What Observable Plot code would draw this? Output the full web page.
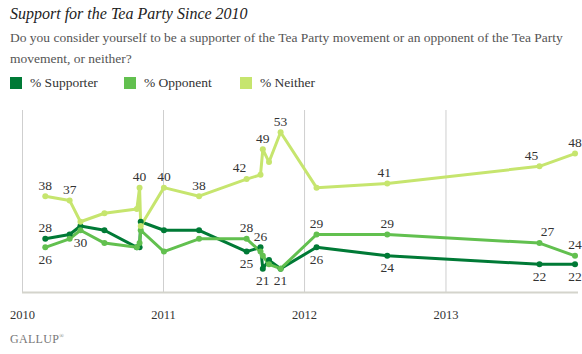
<!DOCTYPE html>
<html>
<head>
<meta charset="utf-8">
<script src="https://cdn.jsdelivr.net/npm/d3@7"></script>
<script src="https://cdn.jsdelivr.net/npm/@observablehq/plot@0.6"></script>
<style>
  html, body { margin: 0; padding: 0; background: #fff; }
  #wrap { position: relative; width: 582px; height: 354px; font-family: "Liberation Serif", "DejaVu Serif", serif; overflow: hidden; }
  #title { position: absolute; left: 10px; top: 5px; font-family: "Liberation Serif", serif; font-size: 16px; font-style: italic; color: #222; }
  #subtitle { position: absolute; left: 10px; top: 27px; width: 572px; font-family: "Liberation Serif", serif; font-size: 13.5px; line-height: 21px; color: #555; }
  #legend { position: absolute; left: 10px; top: 75px; display: flex; font-family: "Liberation Serif", serif; font-size: 13.5px; color: #333; }
  .item { display: flex; align-items: center; }
  .sw { width: 12px; height: 12px; margin-right: 8px; }
  #chart { position: absolute; left: 0; top: 100px; }
  #caption { position: absolute; left: 10px; top: 332px; font-family: "Liberation Serif", serif; font-size: 12px; color: #777; letter-spacing: 0.3px; }
</style>
</head>
<body>
<div id="wrap">
  <div id="title">Support for the Tea Party Since 2010</div>
  <div id="subtitle">Do you consider yourself to be a supporter of the Tea Party movement or an opponent of the Tea Party movement, or neither?</div>
  <div id="legend"></div>
  <div id="chart"></div>
  <div id="caption">GALLUP<sup style="font-size:6px">&#174;</sup></div>
</div>
<script>
// ---- data ----
const dates = ["2010-03-01","2010-05-03","2010-05-31","2010-08-01","2010-10-24","2010-10-31","2010-11-03",
  "2011-01-02","2011-04-03","2011-08-04","2011-09-09","2011-09-15","2011-10-01","2011-10-31",
  "2012-02-01","2012-08-02","2013-08-31","2013-12-01"];
const supporter = [28, 29, 31, 30, 26, 26, 32, 30, 30, 25, 26, 21, 23, 21, 26, 24, 22, 22];
const opponent  = [26, 28, 30, 27, 26, 27, 30, 25, 28, 28, 25, 24, 22, 21, 29, 29, 27, 24];
const neither   = [38, 37, 32, 34, 35, 40, 31, 40, 38, 42, 43, 49, 46, 53, 40, 41, 45, 48];
const seriesNames = ["% Supporter", "% Opponent", "% Neither"];
const seriesColors = ["#007a36", "#62c04f", "#c6e56e"];
const years = ["2010", "2011", "2012", "2013"];
// indices of labelled points
const supporterAbove = [0, 10];
const supporterBelow = [9, 11, 14, 15, 16, 17];
const opponentAbove = [9, 14, 15, 16, 17];
const opponentBelow = [0, 2, 13];
const neitherAbove = [0, 1, 5, 7, 8, 9, 11, 13, 15, 16, 17];
// small horizontal nudges for crowded labels ("series:point" -> px)
const labelNudge = {"2:9": -7, "2:16": -8, "1:16": 8, "2:15": -3};

// ---- build ----
const parse = d3.utcParse("%Y-%m-%d");
const dateObjs = dates.map(parse);
const valuesBySeries = [supporter, opponent, neither];
const rows = [];
seriesNames.forEach((s, k) => valuesBySeries[k].forEach((v, i) => rows.push({series: s, date: dateObjs[i], value: v})));
const pick = (k, idx) => idx.map(i => ({series: seriesNames[k], date: dateObjs[i], value: valuesBySeries[k][i], nudge: labelNudge[k + ":" + i] || 0}));
const above = [...pick(0, supporterAbove), ...pick(1, opponentAbove), ...pick(2, neitherAbove)];
const below = [...pick(0, supporterBelow), ...pick(1, opponentBelow)];
const yearDates = years.map(y => d3.utcParse("%Y")(y));

const legend = document.getElementById("legend");
const widths = [114, 116, 0];
seriesNames.forEach((s, k) => {
  const it = document.createElement("div");
  it.className = "item";
  it.style.width = k < 2 ? widths[k] + "px" : "auto";
  it.innerHTML = `<span class="sw" style="background:${seriesColors[k]}"></span><span>${s}</span>`;
  legend.appendChild(it);
});

const labelMarks = (data, dy) => Array.from(d3.group(data, d => d.nudge), ([n, arr]) =>
  Plot.text(arr, {x: "date", y: "value", text: d => String(d.value), dx: n, dy, fontSize: 13.5, fill: "#333"}));

const yMin = 15.4, yMax = 58.1;
const chart = Plot.plot({
  width: 582, height: 230,
  marginLeft: 22, marginRight: 4, marginTop: 10, marginBottom: 38,
  style: {fontFamily: "Liberation Serif, DejaVu Serif, serif", background: "transparent"},
  x: {type: "utc", domain: [parse("2010-01-01"), parse("2013-12-10")]},
  y: {domain: [yMin, yMax], axis: null},
  color: {domain: seriesNames, range: seriesColors},
  marks: [
    Plot.ruleX(yearDates, {stroke: "#cfcfcf", strokeWidth: 1}),
    Plot.ruleY([yMin], {stroke: "#d4d4cc", strokeWidth: 2}),
    Plot.axisX({ticks: yearDates, tickFormat: "%Y", tickSize: 0, tickPadding: 18, fontSize: 12.5, fill: "#333", label: null}),
    Plot.line(rows, {x: "date", y: "value", z: "series", stroke: "series", strokeWidth: 3}),
    Plot.dot(rows, {x: "date", y: "value", fill: "series", r: 3}),
    ...labelMarks(above, -11),
    ...labelMarks(below, 12)
  ]
});
document.getElementById("chart").appendChild(chart);
</script>
</body>
</html>
